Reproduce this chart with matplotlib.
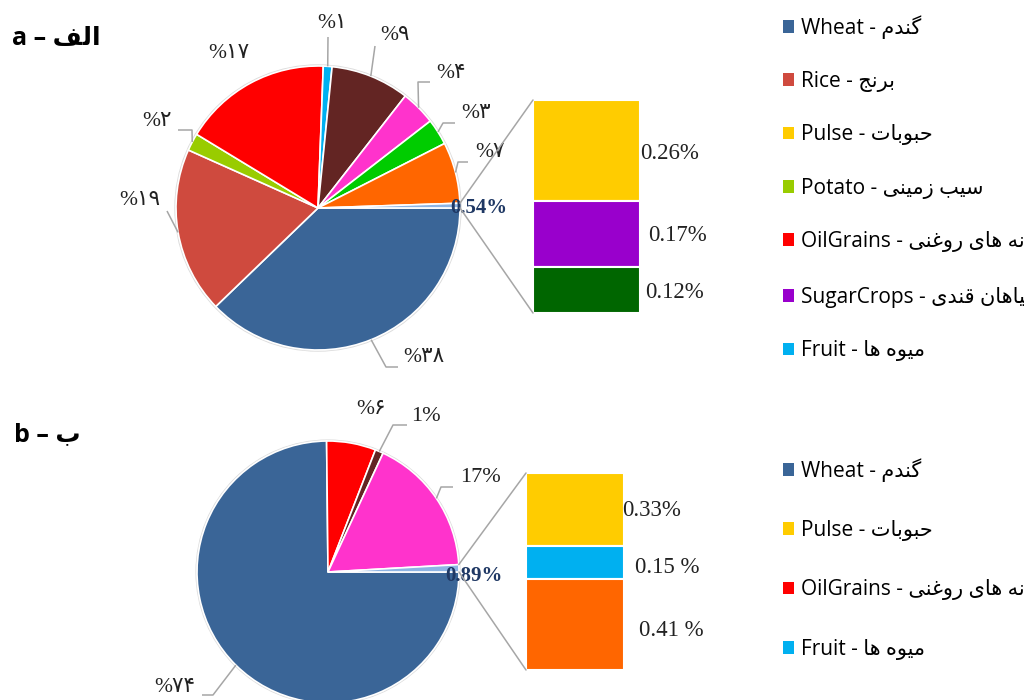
import unicodedata
import numpy as np
import matplotlib
matplotlib.use("Agg")
import matplotlib.pyplot as plt
from matplotlib.patches import Patch, Circle, ConnectionPatch

# ---- data -------------------------------------------------------------
# pie a (clockwise from 3 o'clock)
a_vals = [38, 19, 2, 17, 1, 9, 4, 3, 7, 0.54]
a_colors = ['#3A6597', '#CF4A3E', '#99CC00', '#FF0000', '#00B0F0',
            '#632523', '#FF33CC', '#00CC00', '#FF6600', '#8EB4E3']
a_labels = ['%۳۸', '%۱۹', '%۲', '%۱۷', '%۱', '%۹', '%۴', '%۳', '%۷', '0.54%']
a_bar_vals = [0.26, 0.17, 0.12]          # top -> bottom
a_bar_colors = ['#FFCC00', '#9900CC', '#006600']
a_bar_labels = ['0.26%', '0.17%', '0.12%']

# pie b
b_vals = [74, 6, 1, 17, 0.89]
b_colors = ['#3A6597', '#FF0000', '#632523', '#FF33CC', '#8EB4E3']
b_labels = ['%۷۴', '%۶', '1%', '17%', '0.89%']
b_bar_vals = [0.33, 0.15, 0.41]
b_bar_colors = ['#FFCC00', '#00B0F0', '#FF6600']
b_bar_labels = ['0.33%', '0.15 %', '0.41 %']

legend_a = [('Wheat', 'گندم', '#3A6597'), ('Rice', 'برنج', '#CF4A3E'),
            ('Pulse', 'حبوبات', '#FFCC00'), ('Potato', 'سیب زمینی', '#99CC00'),
            ('OilGrains', 'دانه های روغنی', '#FF0000'),
            ('SugarCrops', 'گیاهان قندی', '#9900CC'), ('Fruit', 'میوه ها', '#00B0F0')]
legend_b = [('Wheat', 'گندم', '#3A6597'), ('Pulse', 'حبوبات', '#FFCC00'),
            ('OilGrains', 'دانه های روغنی', '#FF0000'), ('Fruit', 'میوه ها', '#00B0F0')]

# ---- simple persian shaping (no reshaper lib available) ---------------
RIGHT_ONLY = set('اآأإدذرزژوؤة')


def is_letter(ch):
    return '\u0621' <= ch <= '\u06D3' and not ('\u0660' <= ch <= '\u0669')


def farsi(text):
    out = []
    for i, ch in enumerate(text):
        if not is_letter(ch):
            out.append(ch)
            continue
        prev_ok = i > 0 and is_letter(text[i - 1]) and text[i - 1] not in RIGHT_ONLY
        nxt_ok = i + 1 < len(text) and is_letter(text[i + 1]) and ch not in RIGHT_ONLY
        form = {(True, True): 'MEDIAL', (True, False): 'FINAL',
                (False, True): 'INITIAL', (False, False): None}[(prev_ok, nxt_ok)]
        if form is None:
            out.append(ch)
            continue
        try:
            out.append(unicodedata.lookup(unicodedata.name(ch) + ' ' + form + ' FORM'))
        except KeyError:
            out.append(ch)
    return ''.join(reversed(out))


# ---- layout -----------------------------------------------------------
W, H = 1024, 700
fig = plt.figure(figsize=(W / 100, H / 100), dpi=100)

SERIF = ['Liberation Serif', 'DejaVu Sans']
SANS = ['Open Sans', 'DejaVu Sans']
GRAY = '#A6A6A6'


def px_axes(x, y, w, h):
    return fig.add_axes([x / W, 1 - (y + h) / H, w / W, h / H])


def pie_panel(vals, colors, labels, cx, cy, R, label_pos, leaders):
    ax = px_axes(cx - 1.6 * R, cy - 1.6 * R, 3.2 * R, 3.2 * R)
    ax.add_patch(Circle((0, 0), 1.012, fc='#DCDCDC', ec='none', zorder=0))
    wedges, _ = ax.pie(vals, colors=colors, startangle=0, counterclock=False,
                       radius=1, wedgeprops=dict(edgecolor='white', linewidth=1.2))
    ax.set_xlim(-1.6, 1.6)
    ax.set_ylim(-1.6, 1.6)
    ax.axis('off')

    def d(p):
        return ((p[0] - cx) / R, (cy - p[1]) / R)

    for i, (w, lab) in enumerate(zip(wedges, labels)):
        mid = np.deg2rad((w.theta1 + w.theta2) / 2)
        if leaders[i]:
            pts = [(np.cos(mid), np.sin(mid))] + [d(p) for p in leaders[i]]
            xs, ys = zip(*pts)
            ax.plot(xs, ys, color=GRAY, lw=1.1, solid_capstyle='butt')
        tx, ty = d(label_pos[i])
        if i == len(wedges) - 1:
            ax.text(tx, ty, lab, ha='center', va='center', fontsize=15,
                    family=SERIF, fontweight='bold', color='#1F3864', zorder=5)
        elif lab.startswith('%'):
            ax.text(tx, ty, lab, ha='center', va='center', fontsize=15.5,
                    family=SERIF, color='#222222')
        else:
            ax.text(tx, ty, lab, ha='center', va='center', fontsize=16,
                    family=SERIF, color='#222222')
    return ax, wedges[-1]


def bar_panel(vals, colors, labels, box, label_dx, label_dy, pie_ax, other):
    ax = px_axes(*box)
    total = sum(vals)
    bottoms = np.concatenate([[0], np.cumsum(vals)[:-1]])
    ax.bar(0, vals, bottom=bottoms, width=1, color=colors,
           edgecolor='white', linewidth=1.5)
    ax.set_xlim(-0.5, 0.5)
    ax.set_ylim(total, 0)
    ax.axis('off')
    for v, b, lab, dx, dy in zip(vals, bottoms, labels, label_dx, label_dy):
        ax.text(0.5 + dx / box[2], b + v / 2 + dy * total / box[3], lab,
                ha='left', va='center', fontsize=16.5, family=SERIF, color='#222222')
    for ang, yb in [(other.theta2, 0), (other.theta1, total)]:
        t = np.deg2rad(ang)
        con = ConnectionPatch(xyA=(np.cos(t), np.sin(t)), coordsA=pie_ax.transData,
                              xyB=(-0.5, yb), coordsB=ax.transData,
                              color=GRAY, lw=1.1)
        fig.add_artist(con)


def legend_panel(entries, top_px, spacing):
    handles = [Patch(facecolor=c, edgecolor='none',
                     label=en + ' - ' + farsi(fa)) for en, fa, c in entries]
    fig.legend(handles=handles, loc='upper left',
               bbox_to_anchor=(783 / W, 1 - top_px / H), frameon=False,
               prop={'family': SANS, 'size': 15}, handlelength=0.55,
               handleheight=0.55, handletextpad=0.3, borderpad=0,
               borderaxespad=0, labelspacing=spacing)


# panel a
a_label_pos = [(424, 358), (140, 201), (157, 122), (229, 54), (332, 24),
               (395, 36), (451, 74), (476, 114), (490, 153), (479, 208)]
a_leaders = [[(386, 367), (398, 367)], [(167, 211)], [(192, 130), (178, 130)], None,
             [(328, 37)], [(375, 46)], [(418, 82), (430, 82)],
             [(443, 123), (455, 123)], [(458, 162), (468, 162)], None]
pa, oa = pie_panel(a_vals, a_colors, a_labels, 318, 208, 142, a_label_pos, a_leaders)
bar_panel(a_bar_vals, a_bar_colors, a_bar_labels, (533, 100, 107, 213),
          [0, 8, 5], [3, 2, 3], pa, oa)

# panel b
b_label_pos = [(175, 688), (371, 410), (426, 417), (480, 478), (474, 576)]
b_leaders = [[(213, 695), (202, 695)], None, [(393, 425), (407, 425)],
             [(441, 487), (453, 487)], None]
pb, ob = pie_panel(b_vals, b_colors, b_labels, 328, 572, 131, b_label_pos, b_leaders)
bar_panel(b_bar_vals, b_bar_colors, b_bar_labels, (526, 473, 98, 197),
          [-2, 11, 15], [1, 5, 6], pb, ob)

legend_panel(legend_a, 15, 1.55)
legend_panel(legend_b, 458, 1.84)

# titles
fig.text(12 / W, 1 - 38 / H, 'a – ' + farsi('الف'), family=SANS, fontsize=18,
         fontweight='bold', va='center', ha='left')
fig.text(14 / W, 1 - 435 / H, 'b – ' + farsi('ب'), family=SANS, fontsize=18,
         fontweight='bold', va='center', ha='left')

fig.savefig('out.png', dpi=100, facecolor='white')
